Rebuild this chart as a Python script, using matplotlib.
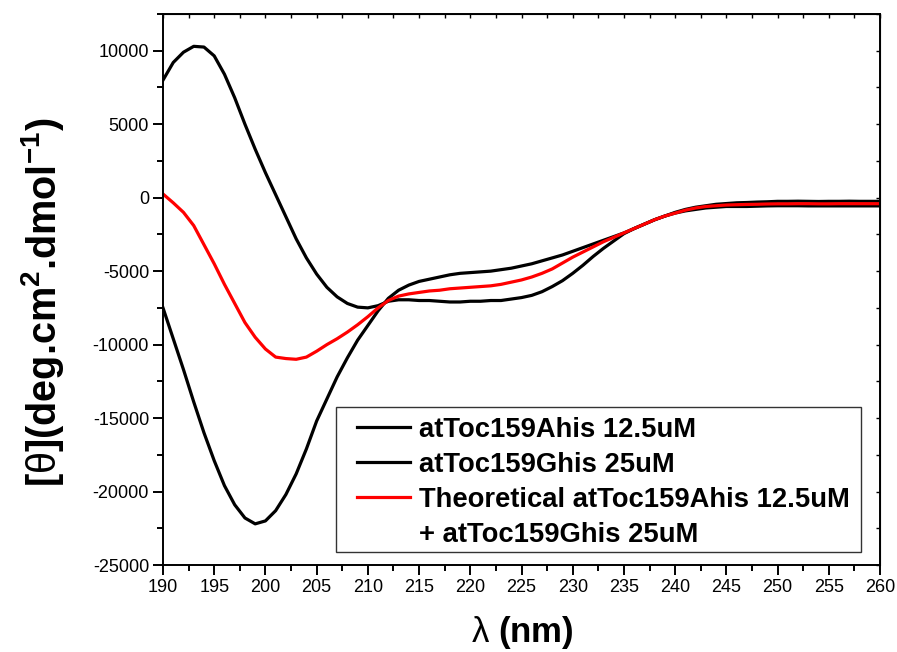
import matplotlib
matplotlib.use("Agg")
import matplotlib.pyplot as plt
from matplotlib.lines import Line2D
from matplotlib.patches import Rectangle
from matplotlib.ticker import MultipleLocator
import numpy as np

plt.rcParams['font.family'] = ['Liberation Sans', 'DejaVu Sans']
plt.rcParams['axes.unicode_minus'] = False
plt.rcParams['mathtext.fontset'] = 'custom'
plt.rcParams['mathtext.rm'] = 'Liberation Sans'
plt.rcParams['mathtext.it'] = 'Liberation Sans:italic'
plt.rcParams['mathtext.bf'] = 'Liberation Sans:bold'

wavelength = list(range(190, 261))

toc159a_12_5uM = [
    8000, 9200, 9900, 10300, 10250, 9650, 8400, 6800, 5000, 3300,
    1700, 200, -1300, -2800, -4100, -5200, -6100, -6750, -7200, -7450,
    -7500, -7350, -7050, -6950, -6950, -7000, -7000, -7050, -7100, -7100,
    -7050, -7050, -7000, -7000, -6900, -6800, -6650, -6400, -6050, -5650,
    -5150, -4600, -4000, -3450, -2950, -2450, -2100, -1800, -1500, -1250,
    -1050, -900, -800, -700, -650, -600, -600, -600, -580, -560,
    -550, -550, -550, -560, -560, -560, -560, -560, -560, -560,
    -560]

toc159g_25uM = [
    -7500, -9600, -11700, -13900, -16000, -17900, -19600, -20900, -21800, -22200,
    -22000, -21300, -20200, -18800, -17100, -15200, -13700, -12200, -10900, -9700,
    -8700, -7700, -6850, -6300, -5950, -5700, -5550, -5400, -5250, -5150,
    -5100, -5050, -5000, -4900, -4800, -4650, -4500, -4300, -4100, -3900,
    -3650, -3400, -3150, -2900, -2650, -2400, -2100, -1800, -1500, -1250,
    -1000, -800, -650, -550, -450, -400, -350, -330, -300, -280,
    -250, -250, -240, -250, -260, -250, -250, -240, -250, -250,
    -250]

theoretical_sum = [
    250, -350, -1000, -1900, -3200, -4500, -5900, -7200, -8500, -9500,
    -10300, -10850, -10950, -11000, -10850, -10450, -10000, -9600, -9150, -8650,
    -8100, -7500, -7000, -6700, -6550, -6450, -6350, -6300, -6200, -6150,
    -6100, -6050, -6000, -5900, -5750, -5600, -5400, -5150, -4850, -4450,
    -4050, -3700, -3350, -3000, -2700, -2400, -2100, -1800, -1500, -1250,
    -1050, -850, -700, -600, -550, -500, -480, -460, -450, -430,
    -420, -420, -410, -410, -420, -420, -410, -410, -410, -410,
    -410]

labels = ["atToc159Ahis 12.5uM", "atToc159Ghis 25uM",
          "Theoretical atToc159Ahis 12.5uM", "+ atToc159Ghis 25uM"]
colors = ["#000000", "#000000", "#ff0000"]

fig = plt.figure(figsize=(8.97, 6.52), dpi=100)
L, R, T, B = 163, 880, 14, 565
ax = fig.add_axes([L/897, 1-B/652, (R-L)/897, (B-T)/652])

def axfx(px):
    return (px - L) / (R - L)

def axfy(py):
    return (B - py) / (B - T)

lw = 2.3
ax.plot(wavelength, toc159a_12_5uM, color=colors[0], lw=lw, label=labels[0])
ax.plot(wavelength, toc159g_25uM, color=colors[1], lw=lw, label=labels[1])
ax.plot(wavelength, theoretical_sum, color=colors[2], lw=lw, label=labels[2])

ax.set_xlim(190, 260)
ax.set_ylim(-25000, 12500)
ax.xaxis.set_major_locator(MultipleLocator(5))
ax.xaxis.set_minor_locator(MultipleLocator(2.5))
ax.yaxis.set_major_locator(MultipleLocator(5000))
ax.yaxis.set_minor_locator(MultipleLocator(2500))
ax.set_yticks(list(range(-25000, 10001, 5000)))

for s in ax.spines.values():
    s.set_linewidth(1.4)
ax.tick_params(which='major', direction='out', length=7, width=1.4,
               labelsize=13, pad=3)
ax.tick_params(which='minor', direction='out', length=4, width=1.4)

# top / right small inward ticks
secx = ax.secondary_xaxis('top')
secx.xaxis.set_major_locator(MultipleLocator(2.5))
secx.tick_params(direction='in', length=3, width=1, labeltop=False)
secy = ax.secondary_yaxis('right')
secy.yaxis.set_major_locator(MultipleLocator(2500))
secy.tick_params(direction='in', length=3, width=1, labelright=False)

ax.set_xlabel(r'$\mathrm{\lambda}$ (nm)', fontsize=25, fontweight='bold')
ax.xaxis.set_label_coords(axfx(522), axfy(614))
ax.set_ylabel(r'[$\mathrm{\theta}$](deg.cm$^\mathbf{2}$.dmol$^\mathbf{-1}$)',
              fontsize=28.5, fontweight='bold')
ax.yaxis.set_label_coords(axfx(66), axfy(302))

handles, lbls = ax.get_legend_handles_labels()
handles.append(Line2D([], [], color='none'))
lbls.append(labels[3])
leg = ax.legend(handles, lbls, loc='upper left',
                bbox_to_anchor=(axfx(357), axfy(417)),
                borderaxespad=0, frameon=False,
                prop={'weight': 'bold', 'size': 19.7}, handlelength=1.93,
                handletextpad=0.33, labelspacing=0.33, borderpad=0)
ax.add_patch(Rectangle((axfx(336), axfy(552)), axfx(861) - axfx(336),
                       axfy(407) - axfy(552), transform=ax.transAxes,
                       fill=False, ec='#333333', lw=1.0, zorder=4))

fig.savefig('out.png', dpi=100)
